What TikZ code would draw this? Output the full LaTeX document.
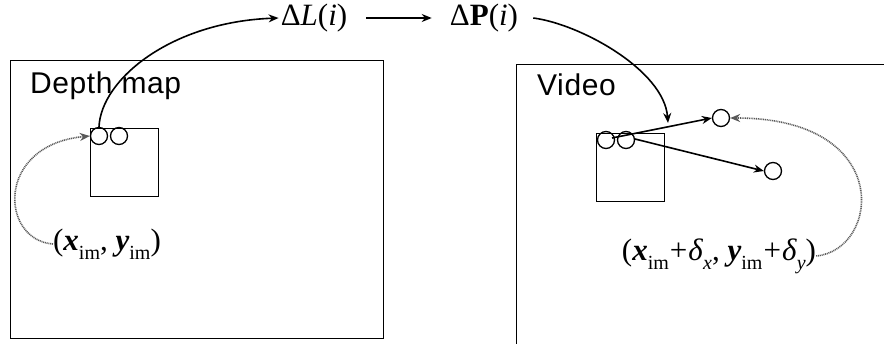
\documentclass[tikz,border=0pt]{standalone}
\usepackage{fontspec}
\setmainfont{Liberation Serif}
\newfontfamily\arialfont[LetterSpace=2]{Liberation Sans}
\usetikzlibrary{arrows.meta}
\newcommand{\sbs}[1]{\raisebox{-0.3em}{\fontsize{20}{20}\selectfont #1}}
\newcommand{\bx}{\textbf{\textit{x}}}
\newcommand{\by}{\textbf{\textit{y}}}
\newcommand{\pl}{\kern1pt+\kern1pt}
\begin{document}
\begin{tikzpicture}[x=1pt,y=-1pt,
  frame/.style={draw,line width=1.3pt,inner sep=0pt,anchor=north west},
  pix/.style={draw,line width=1.3pt,circle,minimum size=17pt,inner sep=0pt},
  arr/.style={line width=1.6pt,-{Stealth[length=10pt,width=8pt]}},
  dots/.style={line width=1.6pt,draw=black!65,dash pattern=on 1pt off 0.8pt,-{Stealth[length=10pt,width=8pt,fill=black!65]}},
  sanslbl/.style={font=\arialfont\fontsize{30}{30}\selectfont,anchor=base west,inner sep=0pt},
  mathlbl/.style={font=\fontsize{31}{31}\selectfont,inner sep=0pt}]
\useasboundingbox (0,0) rectangle (884,343);
% frames
\node[frame,minimum width=373pt,minimum height=278pt] (depth) at (10,60) {};
\node[frame,minimum width=380pt,minimum height=282pt] (video) at (516,64) {};
\node[sanslbl] (dtxt) at (30,93) {Depth map};
\node[sanslbl] (vtxt) at (537,95) {Video};
% small squares
\node[frame,minimum width=68pt,minimum height=68pt] (lsq) at (90,128) {};
\node[frame,minimum width=68pt,minimum height=68pt] (rsq) at (596,133) {};
% circles
\node[pix] (la) at (99,136) {};
\node[pix] (lb) at (119,136) {};
\node[pix] (ra) at (606,140) {};
\node[pix] (rb) at (626,140) {};
\node[pix] (t1) at (721,118) {};
\node[pix] (t2) at (773,171) {};
% top labels
\node[mathlbl] (dL) at (314,18) {Δ\textit{L}(\textit{i})};
\node[mathlbl] (dP) at (484,18) {Δ\textbf{P}(\textit{i})};
% position labels
\node[mathlbl] (lpos) at (107,244) {(\bx\sbs{im}, \by\sbs{im})};
\node[mathlbl] (rpos) at (719,256) {(\bx\sbs{im}\pl\textit{δ}\sbs{\textit{x}}, \by\sbs{im}\pl\textit{δ}\sbs{\textit{y}})};
% connectors
\draw[arr] (la.north) .. controls (101,80) and (170,22) .. ([xshift=-2pt]dL.west);
\draw[arr] ([xshift=19pt]dL.east) -- ([xshift=-18pt]dP.west);
\draw[arr] ([xshift=15pt]dP.east) .. controls (580,24) and (664,70) .. (668,123);
\coordinate (s1) at (612,138);
\coordinate (s2) at (635,139);
\draw[arr] (s1) -- (t1.west);
\draw[arr] (s2) -- (t2.west);
\draw[dots] (lpos.west) .. controls (0,240) and (-5,145) .. (la.west);
\draw[dots] (rpos.east) .. controls (880,250) and (895,118) .. (t1.east);
\end{tikzpicture}
\end{document}
